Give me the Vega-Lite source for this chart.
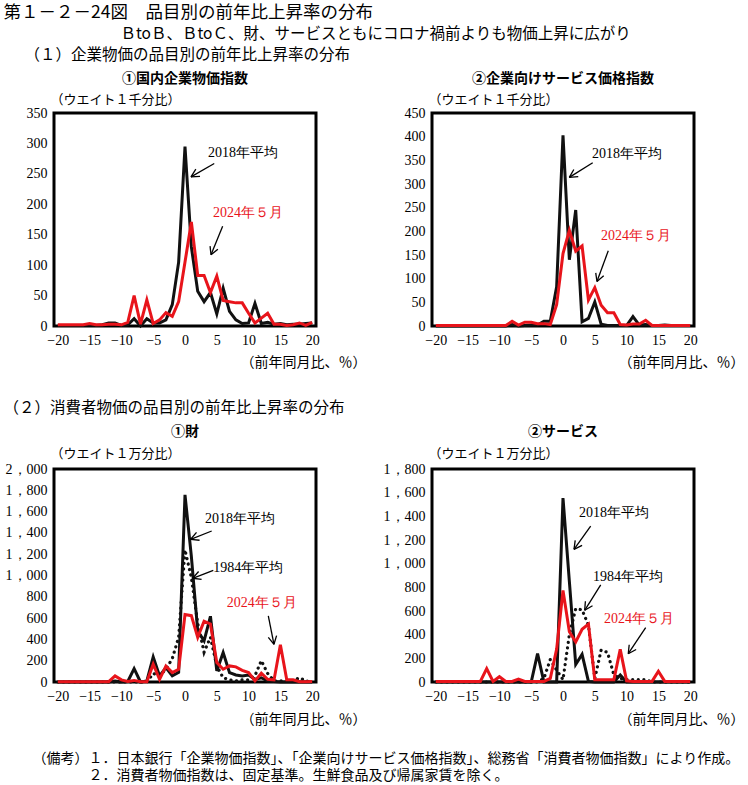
{
"$schema": "https://vega.github.io/schema/vega-lite/v6.json",
"background": "white",
"padding": {"left": 3, "top": 4, "right": 2, "bottom": 0},
"config": {
  "view": {"stroke": "black", "strokeWidth": 3},
  "font": "Noto Sans CJK JP",
  "axis": {"grid": false, "domain": false, "ticks": false, "labelFont": "Liberation Serif", "labelFontSize": 14, "labelColor": "black", "labelPadding": 7, "labelFlush": false, "labelOverlap": false, "labelSeparation": -40, "labelBound": false, "titleFont": "Noto Sans CJK JP", "titleFontSize": 13, "titleFontWeight": "normal", "titleColor": "black"},
  "title": {"font": "Noto Sans CJK JP", "color": "black", "fontWeight": "normal"}
},
"datasets": {
"lines": [
{"p":1,"s":"2018","x":-20,"y":1},{"p":1,"s":"2018","x":-19,"y":1},{"p":1,"s":"2018","x":-18,"y":1},{"p":1,"s":"2018","x":-17,"y":1},{"p":1,"s":"2018","x":-16,"y":1},{"p":1,"s":"2018","x":-15,"y":2},{"p":1,"s":"2018","x":-14,"y":1},{"p":1,"s":"2018","x":-13,"y":2},{"p":1,"s":"2018","x":-12,"y":5},{"p":1,"s":"2018","x":-11,"y":5},{"p":1,"s":"2018","x":-10,"y":1},{"p":1,"s":"2018","x":-9,"y":2},{"p":1,"s":"2018","x":-8,"y":12},{"p":1,"s":"2018","x":-7,"y":0},{"p":1,"s":"2018","x":-6,"y":12},{"p":1,"s":"2018","x":-5,"y":5},{"p":1,"s":"2018","x":-4,"y":5},{"p":1,"s":"2018","x":-3,"y":10},{"p":1,"s":"2018","x":-2,"y":35},{"p":1,"s":"2018","x":-1,"y":105},{"p":1,"s":"2018","x":0,"y":295},{"p":1,"s":"2018","x":1,"y":130},{"p":1,"s":"2018","x":2,"y":57},{"p":1,"s":"2018","x":3,"y":40},{"p":1,"s":"2018","x":4,"y":55},{"p":1,"s":"2018","x":5,"y":20},{"p":1,"s":"2018","x":6,"y":62},{"p":1,"s":"2018","x":7,"y":24},{"p":1,"s":"2018","x":8,"y":10},{"p":1,"s":"2018","x":9,"y":4},{"p":1,"s":"2018","x":10,"y":5},{"p":1,"s":"2018","x":11,"y":37},{"p":1,"s":"2018","x":12,"y":4},{"p":1,"s":"2018","x":13,"y":6},{"p":1,"s":"2018","x":14,"y":3},{"p":1,"s":"2018","x":15,"y":4},{"p":1,"s":"2018","x":16,"y":2},{"p":1,"s":"2018","x":17,"y":3},{"p":1,"s":"2018","x":18,"y":3},{"p":1,"s":"2018","x":19,"y":4},{"p":1,"s":"2018","x":20,"y":5},
{"p":1,"s":"2024","x":-20,"y":2},{"p":1,"s":"2024","x":-19,"y":2},{"p":1,"s":"2024","x":-18,"y":2},{"p":1,"s":"2024","x":-17,"y":2},{"p":1,"s":"2024","x":-16,"y":2},{"p":1,"s":"2024","x":-15,"y":4},{"p":1,"s":"2024","x":-14,"y":2},{"p":1,"s":"2024","x":-13,"y":2},{"p":1,"s":"2024","x":-12,"y":3},{"p":1,"s":"2024","x":-11,"y":3},{"p":1,"s":"2024","x":-10,"y":2},{"p":1,"s":"2024","x":-9,"y":6},{"p":1,"s":"2024","x":-8,"y":50},{"p":1,"s":"2024","x":-7,"y":3},{"p":1,"s":"2024","x":-6,"y":43},{"p":1,"s":"2024","x":-5,"y":4},{"p":1,"s":"2024","x":-4,"y":10},{"p":1,"s":"2024","x":-3,"y":22},{"p":1,"s":"2024","x":-2,"y":16},{"p":1,"s":"2024","x":-1,"y":40},{"p":1,"s":"2024","x":0,"y":105},{"p":1,"s":"2024","x":1,"y":171},{"p":1,"s":"2024","x":2,"y":83},{"p":1,"s":"2024","x":3,"y":83},{"p":1,"s":"2024","x":4,"y":55},{"p":1,"s":"2024","x":5,"y":82},{"p":1,"s":"2024","x":6,"y":42},{"p":1,"s":"2024","x":7,"y":40},{"p":1,"s":"2024","x":8,"y":38},{"p":1,"s":"2024","x":9,"y":38},{"p":1,"s":"2024","x":10,"y":21},{"p":1,"s":"2024","x":11,"y":5},{"p":1,"s":"2024","x":12,"y":13},{"p":1,"s":"2024","x":13,"y":21},{"p":1,"s":"2024","x":14,"y":3},{"p":1,"s":"2024","x":15,"y":3},{"p":1,"s":"2024","x":16,"y":1},{"p":1,"s":"2024","x":17,"y":2},{"p":1,"s":"2024","x":18,"y":5},{"p":1,"s":"2024","x":19,"y":1},{"p":1,"s":"2024","x":20,"y":6},
{"p":2,"s":"2018","x":-20,"y":0},{"p":2,"s":"2018","x":-19,"y":0},{"p":2,"s":"2018","x":-18,"y":0},{"p":2,"s":"2018","x":-17,"y":0},{"p":2,"s":"2018","x":-16,"y":0},{"p":2,"s":"2018","x":-15,"y":0},{"p":2,"s":"2018","x":-14,"y":0},{"p":2,"s":"2018","x":-13,"y":0},{"p":2,"s":"2018","x":-12,"y":0},{"p":2,"s":"2018","x":-11,"y":0},{"p":2,"s":"2018","x":-10,"y":0},{"p":2,"s":"2018","x":-9,"y":0},{"p":2,"s":"2018","x":-8,"y":3},{"p":2,"s":"2018","x":-7,"y":0},{"p":2,"s":"2018","x":-6,"y":1},{"p":2,"s":"2018","x":-5,"y":2},{"p":2,"s":"2018","x":-4,"y":2},{"p":2,"s":"2018","x":-3,"y":10},{"p":2,"s":"2018","x":-2,"y":10},{"p":2,"s":"2018","x":-1,"y":83},{"p":2,"s":"2018","x":0,"y":403},{"p":2,"s":"2018","x":1,"y":140},{"p":2,"s":"2018","x":2,"y":245},{"p":2,"s":"2018","x":3,"y":9},{"p":2,"s":"2018","x":4,"y":16},{"p":2,"s":"2018","x":5,"y":51},{"p":2,"s":"2018","x":6,"y":4},{"p":2,"s":"2018","x":7,"y":1},{"p":2,"s":"2018","x":8,"y":1},{"p":2,"s":"2018","x":9,"y":1},{"p":2,"s":"2018","x":10,"y":1},{"p":2,"s":"2018","x":11,"y":20},{"p":2,"s":"2018","x":12,"y":2},{"p":2,"s":"2018","x":13,"y":3},{"p":2,"s":"2018","x":14,"y":1},{"p":2,"s":"2018","x":15,"y":1},{"p":2,"s":"2018","x":16,"y":2},{"p":2,"s":"2018","x":17,"y":1},{"p":2,"s":"2018","x":18,"y":1},{"p":2,"s":"2018","x":19,"y":1},{"p":2,"s":"2018","x":20,"y":1},
{"p":2,"s":"2024","x":-20,"y":1},{"p":2,"s":"2024","x":-19,"y":1},{"p":2,"s":"2024","x":-18,"y":1},{"p":2,"s":"2024","x":-17,"y":1},{"p":2,"s":"2024","x":-16,"y":1},{"p":2,"s":"2024","x":-15,"y":1},{"p":2,"s":"2024","x":-14,"y":1},{"p":2,"s":"2024","x":-13,"y":1},{"p":2,"s":"2024","x":-12,"y":1},{"p":2,"s":"2024","x":-11,"y":1},{"p":2,"s":"2024","x":-10,"y":1},{"p":2,"s":"2024","x":-9,"y":1},{"p":2,"s":"2024","x":-8,"y":10},{"p":2,"s":"2024","x":-7,"y":2},{"p":2,"s":"2024","x":-6,"y":8},{"p":2,"s":"2024","x":-5,"y":8},{"p":2,"s":"2024","x":-4,"y":5},{"p":2,"s":"2024","x":-3,"y":5},{"p":2,"s":"2024","x":-2,"y":3},{"p":2,"s":"2024","x":-1,"y":45},{"p":2,"s":"2024","x":0,"y":153},{"p":2,"s":"2024","x":1,"y":202},{"p":2,"s":"2024","x":2,"y":158},{"p":2,"s":"2024","x":3,"y":169},{"p":2,"s":"2024","x":4,"y":55},{"p":2,"s":"2024","x":5,"y":81},{"p":2,"s":"2024","x":6,"y":44},{"p":2,"s":"2024","x":7,"y":28},{"p":2,"s":"2024","x":8,"y":28},{"p":2,"s":"2024","x":9,"y":3},{"p":2,"s":"2024","x":10,"y":2},{"p":2,"s":"2024","x":11,"y":4},{"p":2,"s":"2024","x":12,"y":4},{"p":2,"s":"2024","x":13,"y":12},{"p":2,"s":"2024","x":14,"y":1},{"p":2,"s":"2024","x":15,"y":1},{"p":2,"s":"2024","x":16,"y":1},{"p":2,"s":"2024","x":17,"y":1},{"p":2,"s":"2024","x":18,"y":1},{"p":2,"s":"2024","x":19,"y":1},{"p":2,"s":"2024","x":20,"y":1},
{"p":3,"s":"2018","x":-20,"y":0},{"p":3,"s":"2018","x":-19,"y":0},{"p":3,"s":"2018","x":-18,"y":0},{"p":3,"s":"2018","x":-17,"y":0},{"p":3,"s":"2018","x":-16,"y":0},{"p":3,"s":"2018","x":-15,"y":0},{"p":3,"s":"2018","x":-14,"y":0},{"p":3,"s":"2018","x":-13,"y":0},{"p":3,"s":"2018","x":-12,"y":0},{"p":3,"s":"2018","x":-11,"y":10},{"p":3,"s":"2018","x":-10,"y":0},{"p":3,"s":"2018","x":-9,"y":5},{"p":3,"s":"2018","x":-8,"y":125},{"p":3,"s":"2018","x":-7,"y":0},{"p":3,"s":"2018","x":-6,"y":10},{"p":3,"s":"2018","x":-5,"y":235},{"p":3,"s":"2018","x":-4,"y":57},{"p":3,"s":"2018","x":-3,"y":135},{"p":3,"s":"2018","x":-2,"y":57},{"p":3,"s":"2018","x":-1,"y":90},{"p":3,"s":"2018","x":0,"y":1757},{"p":3,"s":"2018","x":1,"y":1180},{"p":3,"s":"2018","x":2,"y":480},{"p":3,"s":"2018","x":3,"y":387},{"p":3,"s":"2018","x":4,"y":617},{"p":3,"s":"2018","x":5,"y":104},{"p":3,"s":"2018","x":6,"y":277},{"p":3,"s":"2018","x":7,"y":88},{"p":3,"s":"2018","x":8,"y":66},{"p":3,"s":"2018","x":9,"y":57},{"p":3,"s":"2018","x":10,"y":66},{"p":3,"s":"2018","x":11,"y":25},{"p":3,"s":"2018","x":12,"y":40},{"p":3,"s":"2018","x":13,"y":10},{"p":3,"s":"2018","x":14,"y":5},{"p":3,"s":"2018","x":15,"y":0},{"p":3,"s":"2018","x":16,"y":0},{"p":3,"s":"2018","x":17,"y":0},{"p":3,"s":"2018","x":18,"y":0},{"p":3,"s":"2018","x":19,"y":0},{"p":3,"s":"2018","x":20,"y":0},
{"p":3,"s":"1984","x":-20,"y":0},{"p":3,"s":"1984","x":-19,"y":0},{"p":3,"s":"1984","x":-18,"y":0},{"p":3,"s":"1984","x":-17,"y":0},{"p":3,"s":"1984","x":-16,"y":0},{"p":3,"s":"1984","x":-15,"y":0},{"p":3,"s":"1984","x":-14,"y":0},{"p":3,"s":"1984","x":-13,"y":0},{"p":3,"s":"1984","x":-12,"y":0},{"p":3,"s":"1984","x":-11,"y":0},{"p":3,"s":"1984","x":-10,"y":0},{"p":3,"s":"1984","x":-9,"y":0},{"p":3,"s":"1984","x":-8,"y":0},{"p":3,"s":"1984","x":-7,"y":0},{"p":3,"s":"1984","x":-6,"y":0},{"p":3,"s":"1984","x":-5,"y":80},{"p":3,"s":"1984","x":-4,"y":60},{"p":3,"s":"1984","x":-3,"y":120},{"p":3,"s":"1984","x":-2,"y":220},{"p":3,"s":"1984","x":-1,"y":420},{"p":3,"s":"1984","x":0,"y":1240},{"p":3,"s":"1984","x":1,"y":980},{"p":3,"s":"1984","x":2,"y":550},{"p":3,"s":"1984","x":3,"y":280},{"p":3,"s":"1984","x":4,"y":420},{"p":3,"s":"1984","x":5,"y":150},{"p":3,"s":"1984","x":6,"y":40},{"p":3,"s":"1984","x":7,"y":20},{"p":3,"s":"1984","x":8,"y":10},{"p":3,"s":"1984","x":9,"y":20},{"p":3,"s":"1984","x":10,"y":20},{"p":3,"s":"1984","x":11,"y":60},{"p":3,"s":"1984","x":12,"y":200},{"p":3,"s":"1984","x":13,"y":80},{"p":3,"s":"1984","x":14,"y":10},{"p":3,"s":"1984","x":15,"y":10},{"p":3,"s":"1984","x":16,"y":10},{"p":3,"s":"1984","x":17,"y":10},{"p":3,"s":"1984","x":18,"y":40},{"p":3,"s":"1984","x":19,"y":10},{"p":3,"s":"1984","x":20,"y":0},
{"p":3,"s":"2024","x":-20,"y":3},{"p":3,"s":"2024","x":-19,"y":3},{"p":3,"s":"2024","x":-18,"y":3},{"p":3,"s":"2024","x":-17,"y":3},{"p":3,"s":"2024","x":-16,"y":3},{"p":3,"s":"2024","x":-15,"y":3},{"p":3,"s":"2024","x":-14,"y":3},{"p":3,"s":"2024","x":-13,"y":3},{"p":3,"s":"2024","x":-12,"y":3},{"p":3,"s":"2024","x":-11,"y":57},{"p":3,"s":"2024","x":-10,"y":20},{"p":3,"s":"2024","x":-9,"y":5},{"p":3,"s":"2024","x":-8,"y":15},{"p":3,"s":"2024","x":-7,"y":3},{"p":3,"s":"2024","x":-6,"y":3},{"p":3,"s":"2024","x":-5,"y":167},{"p":3,"s":"2024","x":-4,"y":25},{"p":3,"s":"2024","x":-3,"y":150},{"p":3,"s":"2024","x":-2,"y":88},{"p":3,"s":"2024","x":-1,"y":120},{"p":3,"s":"2024","x":0,"y":633},{"p":3,"s":"2024","x":1,"y":623},{"p":3,"s":"2024","x":2,"y":419},{"p":3,"s":"2024","x":3,"y":570},{"p":3,"s":"2024","x":4,"y":545},{"p":3,"s":"2024","x":5,"y":183},{"p":3,"s":"2024","x":6,"y":120},{"p":3,"s":"2024","x":7,"y":151},{"p":3,"s":"2024","x":8,"y":142},{"p":3,"s":"2024","x":9,"y":110},{"p":3,"s":"2024","x":10,"y":88},{"p":3,"s":"2024","x":11,"y":10},{"p":3,"s":"2024","x":12,"y":82},{"p":3,"s":"2024","x":13,"y":25},{"p":3,"s":"2024","x":14,"y":19},{"p":3,"s":"2024","x":15,"y":350},{"p":3,"s":"2024","x":16,"y":20},{"p":3,"s":"2024","x":17,"y":20},{"p":3,"s":"2024","x":18,"y":3},{"p":3,"s":"2024","x":19,"y":3},{"p":3,"s":"2024","x":20,"y":5},
{"p":4,"s":"2018","x":-20,"y":0},{"p":4,"s":"2018","x":-19,"y":0},{"p":4,"s":"2018","x":-18,"y":0},{"p":4,"s":"2018","x":-17,"y":0},{"p":4,"s":"2018","x":-16,"y":0},{"p":4,"s":"2018","x":-15,"y":0},{"p":4,"s":"2018","x":-14,"y":0},{"p":4,"s":"2018","x":-13,"y":0},{"p":4,"s":"2018","x":-12,"y":0},{"p":4,"s":"2018","x":-11,"y":0},{"p":4,"s":"2018","x":-10,"y":0},{"p":4,"s":"2018","x":-9,"y":0},{"p":4,"s":"2018","x":-8,"y":0},{"p":4,"s":"2018","x":-7,"y":0},{"p":4,"s":"2018","x":-6,"y":0},{"p":4,"s":"2018","x":-5,"y":0},{"p":4,"s":"2018","x":-4,"y":240},{"p":4,"s":"2018","x":-3,"y":0},{"p":4,"s":"2018","x":-2,"y":0},{"p":4,"s":"2018","x":-1,"y":0},{"p":4,"s":"2018","x":0,"y":1555},{"p":4,"s":"2018","x":1,"y":850},{"p":4,"s":"2018","x":2,"y":148},{"p":4,"s":"2018","x":3,"y":233},{"p":4,"s":"2018","x":4,"y":5},{"p":4,"s":"2018","x":5,"y":0},{"p":4,"s":"2018","x":6,"y":0},{"p":4,"s":"2018","x":7,"y":0},{"p":4,"s":"2018","x":8,"y":0},{"p":4,"s":"2018","x":9,"y":60},{"p":4,"s":"2018","x":10,"y":0},{"p":4,"s":"2018","x":11,"y":0},{"p":4,"s":"2018","x":12,"y":0},{"p":4,"s":"2018","x":13,"y":0},{"p":4,"s":"2018","x":14,"y":0},{"p":4,"s":"2018","x":15,"y":0},{"p":4,"s":"2018","x":16,"y":0},{"p":4,"s":"2018","x":17,"y":0},{"p":4,"s":"2018","x":18,"y":0},{"p":4,"s":"2018","x":19,"y":0},{"p":4,"s":"2018","x":20,"y":0},
{"p":4,"s":"1984","x":-20,"y":0},{"p":4,"s":"1984","x":-19,"y":0},{"p":4,"s":"1984","x":-18,"y":0},{"p":4,"s":"1984","x":-17,"y":0},{"p":4,"s":"1984","x":-16,"y":0},{"p":4,"s":"1984","x":-15,"y":0},{"p":4,"s":"1984","x":-14,"y":0},{"p":4,"s":"1984","x":-13,"y":0},{"p":4,"s":"1984","x":-12,"y":0},{"p":4,"s":"1984","x":-11,"y":0},{"p":4,"s":"1984","x":-10,"y":0},{"p":4,"s":"1984","x":-9,"y":0},{"p":4,"s":"1984","x":-8,"y":0},{"p":4,"s":"1984","x":-7,"y":0},{"p":4,"s":"1984","x":-6,"y":0},{"p":4,"s":"1984","x":-5,"y":0},{"p":4,"s":"1984","x":-4,"y":0},{"p":4,"s":"1984","x":-3,"y":30},{"p":4,"s":"1984","x":-2,"y":190},{"p":4,"s":"1984","x":-1,"y":100},{"p":4,"s":"1984","x":0,"y":20},{"p":4,"s":"1984","x":1,"y":400},{"p":4,"s":"1984","x":2,"y":620},{"p":4,"s":"1984","x":3,"y":610},{"p":4,"s":"1984","x":4,"y":480},{"p":4,"s":"1984","x":5,"y":30},{"p":4,"s":"1984","x":6,"y":270},{"p":4,"s":"1984","x":7,"y":250},{"p":4,"s":"1984","x":8,"y":60},{"p":4,"s":"1984","x":9,"y":30},{"p":4,"s":"1984","x":10,"y":20},{"p":4,"s":"1984","x":11,"y":20},{"p":4,"s":"1984","x":12,"y":20},{"p":4,"s":"1984","x":13,"y":20},{"p":4,"s":"1984","x":14,"y":0},{"p":4,"s":"1984","x":15,"y":0},{"p":4,"s":"1984","x":16,"y":0},{"p":4,"s":"1984","x":17,"y":0},{"p":4,"s":"1984","x":18,"y":0},{"p":4,"s":"1984","x":19,"y":0},{"p":4,"s":"1984","x":20,"y":0},
{"p":4,"s":"2024","x":-20,"y":5},{"p":4,"s":"2024","x":-19,"y":5},{"p":4,"s":"2024","x":-18,"y":5},{"p":4,"s":"2024","x":-17,"y":5},{"p":4,"s":"2024","x":-16,"y":5},{"p":4,"s":"2024","x":-15,"y":5},{"p":4,"s":"2024","x":-14,"y":5},{"p":4,"s":"2024","x":-13,"y":5},{"p":4,"s":"2024","x":-12,"y":113},{"p":4,"s":"2024","x":-11,"y":5},{"p":4,"s":"2024","x":-10,"y":45},{"p":4,"s":"2024","x":-9,"y":5},{"p":4,"s":"2024","x":-8,"y":5},{"p":4,"s":"2024","x":-7,"y":25},{"p":4,"s":"2024","x":-6,"y":5},{"p":4,"s":"2024","x":-5,"y":5},{"p":4,"s":"2024","x":-4,"y":5},{"p":4,"s":"2024","x":-3,"y":5},{"p":4,"s":"2024","x":-2,"y":30},{"p":4,"s":"2024","x":-1,"y":278},{"p":4,"s":"2024","x":0,"y":773},{"p":4,"s":"2024","x":1,"y":424},{"p":4,"s":"2024","x":2,"y":338},{"p":4,"s":"2024","x":3,"y":446},{"p":4,"s":"2024","x":4,"y":489},{"p":4,"s":"2024","x":5,"y":20},{"p":4,"s":"2024","x":6,"y":20},{"p":4,"s":"2024","x":7,"y":20},{"p":4,"s":"2024","x":8,"y":20},{"p":4,"s":"2024","x":9,"y":276},{"p":4,"s":"2024","x":10,"y":10},{"p":4,"s":"2024","x":11,"y":5},{"p":4,"s":"2024","x":12,"y":5},{"p":4,"s":"2024","x":13,"y":5},{"p":4,"s":"2024","x":14,"y":5},{"p":4,"s":"2024","x":15,"y":91},{"p":4,"s":"2024","x":16,"y":5},{"p":4,"s":"2024","x":17,"y":5},{"p":4,"s":"2024","x":18,"y":5},{"p":4,"s":"2024","x":19,"y":5},{"p":4,"s":"2024","x":20,"y":5}
],
"labels": [
{"p":1,"s":"2018","t":"2018年平均","x":3.6,"y":285},{"p":1,"s":"2024","t":"2024年５月","x":4.4,"y":186},
{"p":2,"s":"2018","t":"2018年平均","x":4.56,"y":363},{"p":2,"s":"2024","t":"2024年５月","x":5.97,"y":190},
{"p":3,"s":"2018","t":"2018年平均","x":3.14,"y":1528},{"p":3,"s":"1984","t":"1984年平均","x":4.45,"y":1073},{"p":3,"s":"2024","t":"2024年５月","x":6.55,"y":745},
{"p":4,"s":"2018","t":"2018年平均","x":2.51,"y":1431},{"p":4,"s":"1984","t":"1984年平均","x":4.71,"y":887},{"p":4,"s":"2024","t":"2024年５月","x":6.44,"y":535}
],
"arrows": [
{"p":1,"x":0.94,"y":245,"x2":4.6,"y2":267},{"p":1,"x":0.94,"y":245,"x2":2.36,"y2":245.8},{"p":1,"x":0.94,"y":245,"x2":1.7,"y2":257.8},
{"p":1,"x":4.09,"y":117,"x2":5.92,"y2":164},{"p":1,"x":4.09,"y":117,"x2":5.17,"y2":126.2},{"p":1,"x":4.09,"y":117,"x2":3.94,"y2":131.3},
{"p":2,"x":0.99,"y":314,"x2":4.67,"y2":345},{"p":2,"x":0.99,"y":314,"x2":2.4,"y2":315.5},{"p":2,"x":0.99,"y":314,"x2":1.7,"y2":330.7},
{"p":2,"x":5.34,"y":94,"x2":7.12,"y2":159},{"p":2,"x":5.34,"y":94,"x2":6.4,"y2":106.3},{"p":2,"x":5.34,"y":94,"x2":5.15,"y2":112.4},
{"p":3,"x":0.89,"y":1340,"x2":4.2,"y2":1418},{"p":3,"x":0.89,"y":1340,"x2":2.29,"y2":1331},{"p":3,"x":0.89,"y":1340,"x2":1.81,"y2":1405},
{"p":3,"x":1.21,"y":974,"x2":4.45,"y2":1049},{"p":3,"x":1.21,"y":974,"x2":2.61,"y2":963},{"p":3,"x":1.21,"y":974,"x2":2.14,"y2":1038},
{"p":3,"x":13.99,"y":354,"x2":13.1,"y2":620},{"p":3,"x":13.99,"y":354,"x2":14.4,"y2":435},{"p":3,"x":13.99,"y":354,"x2":13.1,"y2":419},
{"p":4,"x":1.73,"y":1121,"x2":4.35,"y2":1318},{"p":4,"x":1.73,"y":1121,"x2":3.0,"y2":1155},{"p":4,"x":1.73,"y":1121,"x2":1.92,"y2":1197},
{"p":4,"x":3.41,"y":606,"x2":5.93,"y2":820},{"p":4,"x":3.41,"y":606,"x2":4.64,"y2":644},{"p":4,"x":3.41,"y":606,"x2":3.52,"y2":682},
{"p":4,"x":10.26,"y":239,"x2":13.0,"y2":459},{"p":4,"x":10.26,"y":239,"x2":11.5,"y2":275},{"p":4,"x":10.26,"y":239,"x2":10.41,"y2":315}
]
},
"title": {"text": "第１－２－24図　品目別の前年比上昇率の分布", "anchor": "start", "fontSize": 17.5, "offset": 5},
"vconcat": [{
  "title": {"text": "ＢtoＢ、ＢtoＣ、財、サービスともにコロナ禍前よりも物価上昇に広がり", "anchor": "start", "dx": 117, "fontSize": 15.5, "offset": 6},
  "vconcat": [{
    "title": {"text": ["（備考）１．日本銀行「企業物価指数」、「企業向けサービス価格指数」、総務省「消費者物価指数」により作成。", "\u200b　　　　２．消費者物価指数は、固定基準。生鮮食品及び帰属家賃を除く。"], "orient": "bottom", "anchor": "start", "align": "left", "dx": 29, "fontSize": 14, "lineHeight": 17, "offset": 24},
    "spacing": 30,
    "vconcat": [
    {
      "title": {"text": "（１）企業物価の品目別の前年比上昇率の分布", "anchor": "start", "fontSize": 15.5, "offset": 7},
      "hconcat": [
      {
        "width": 262, "height": 213,
        "title": {"text": "①国内企業物価指数", "fontSize": 14, "fontWeight": "bold", "offset": 7},
        "layer": [
          {"data": {"name": "lines"}, "transform": [{"filter": "datum.p == 1 && datum.s == '2018'"}],
           "mark": {"type": "line", "color": "#111111", "strokeWidth": 3},
           "encoding": {
             "x": {"field": "x", "type": "quantitative", "scale": {"domain": [-20.6, 20.6], "nice": false, "zero": false}, "axis": {"tickCount": 8, "labelOverlap": false, "title": "（前年同月比、％）", "titleFontSize": 14, "titleAlign": "right", "titleX": 312, "titleY": 36, "titleBaseline": "middle"}},
             "y": {"field": "y", "type": "quantitative", "scale": {"domain": [0, 350], "nice": false}, "axis": {"tickCount": 7, "labelOverlap": false, "title": "（ウエイト１千分比）", "titleAngle": 0, "titleAlign": "left", "titleX": -4, "titleY": -14, "titleBaseline": "middle"}}
           }},
          {"data": {"name": "lines"}, "transform": [{"filter": "datum.p == 1 && datum.s == '2024'"}],
           "mark": {"type": "line", "color": "#e8141b", "strokeWidth": 3},
           "encoding": {"x": {"field": "x", "type": "quantitative"}, "y": {"field": "y", "type": "quantitative"}}},
          {"data": {"name": "arrows"}, "transform": [{"filter": "datum.p == 1"}],
           "mark": {"type": "rule", "color": "black", "strokeWidth": 1.3},
           "encoding": {"x": {"field": "x", "type": "quantitative"}, "y": {"field": "y", "type": "quantitative"}, "x2": {"field": "x2"}, "y2": {"field": "y2"}}},
          {"data": {"name": "labels"}, "transform": [{"filter": "datum.p == 1"}],
           "mark": {"type": "text", "align": "left", "baseline": "middle", "font": "Liberation Serif", "fontSize": 14},
           "encoding": {"x": {"field": "x", "type": "quantitative"}, "y": {"field": "y", "type": "quantitative"}, "text": {"field": "t"}, "color": {"field": "s", "type": "nominal", "scale": {"domain": ["2018", "1984", "2024"], "range": ["black", "black", "#e8141b"]}, "legend": null}}}
        ]
      },
      {
        "width": 262, "height": 213,
        "title": {"text": "②企業向けサービス価格指数", "fontSize": 14, "fontWeight": "bold", "offset": 7},
        "layer": [
          {"data": {"name": "lines"}, "transform": [{"filter": "datum.p == 2 && datum.s == '2018'"}],
           "mark": {"type": "line", "color": "#111111", "strokeWidth": 3},
           "encoding": {
             "x": {"field": "x", "type": "quantitative", "scale": {"domain": [-20.6, 20.6], "nice": false, "zero": false}, "axis": {"tickCount": 8, "labelOverlap": false, "title": "（前年同月比、％）", "titleFontSize": 14, "titleAlign": "right", "titleX": 312, "titleY": 36, "titleBaseline": "middle"}},
             "y": {"field": "y", "type": "quantitative", "scale": {"domain": [0, 450], "nice": false}, "axis": {"tickCount": 9, "labelOverlap": false, "title": "（ウエイト１千分比）", "titleAngle": 0, "titleAlign": "left", "titleX": -4, "titleY": -14, "titleBaseline": "middle"}}
           }},
          {"data": {"name": "lines"}, "transform": [{"filter": "datum.p == 2 && datum.s == '2024'"}],
           "mark": {"type": "line", "color": "#e8141b", "strokeWidth": 3},
           "encoding": {"x": {"field": "x", "type": "quantitative"}, "y": {"field": "y", "type": "quantitative"}}},
          {"data": {"name": "arrows"}, "transform": [{"filter": "datum.p == 2"}],
           "mark": {"type": "rule", "color": "black", "strokeWidth": 1.3},
           "encoding": {"x": {"field": "x", "type": "quantitative"}, "y": {"field": "y", "type": "quantitative"}, "x2": {"field": "x2"}, "y2": {"field": "y2"}}},
          {"data": {"name": "labels"}, "transform": [{"filter": "datum.p == 2"}],
           "mark": {"type": "text", "align": "left", "baseline": "middle", "font": "Liberation Serif", "fontSize": 14},
           "encoding": {"x": {"field": "x", "type": "quantitative"}, "y": {"field": "y", "type": "quantitative"}, "text": {"field": "t"}, "color": {"field": "s", "type": "nominal", "scale": {"domain": ["2018", "1984", "2024"], "range": ["black", "black", "#e8141b"]}, "legend": null}}}
        ]
      }
      ],
      "spacing": 116,
      "bounds": "flush"
    },
    {
      "title": {"text": "（２）消費者物価の品目別の前年比上昇率の分布", "anchor": "start", "fontSize": 15.5, "offset": 7},
      "hconcat": [
      {
        "width": 262, "height": 213,
        "title": {"text": "①財", "fontSize": 14, "fontWeight": "bold", "offset": 8},
        "layer": [
          {"data": {"name": "lines"}, "transform": [{"filter": "datum.p == 3 && datum.s == '2018'"}],
           "mark": {"type": "line", "color": "#111111", "strokeWidth": 3},
           "encoding": {
             "x": {"field": "x", "type": "quantitative", "scale": {"domain": [-20.6, 20.6], "nice": false, "zero": false}, "axis": {"tickCount": 8, "labelOverlap": false, "title": "（前年同月比、％）", "titleFontSize": 14, "titleAlign": "right", "titleX": 312, "titleY": 37, "titleBaseline": "middle"}},
             "y": {"field": "y", "type": "quantitative", "scale": {"domain": [0, 2000], "nice": false}, "axis": {"tickCount": 10, "labelOverlap": false, "format": ",d", "labelExpr": "replace(datum.label, ',', '，')", "title": "（ウエイト１万分比）", "titleAngle": 0, "titleAlign": "left", "titleX": -4, "titleY": -16, "titleBaseline": "middle"}}
           }},
          {"data": {"name": "lines"}, "transform": [{"filter": "datum.p == 3 && datum.s == '1984'"}],
           "mark": {"type": "line", "color": "#111111", "strokeWidth": 3.2, "strokeDash": [0.1, 5.5], "strokeCap": "round"},
           "encoding": {"x": {"field": "x", "type": "quantitative"}, "y": {"field": "y", "type": "quantitative"}}},
          {"data": {"name": "lines"}, "transform": [{"filter": "datum.p == 3 && datum.s == '2024'"}],
           "mark": {"type": "line", "color": "#e8141b", "strokeWidth": 3},
           "encoding": {"x": {"field": "x", "type": "quantitative"}, "y": {"field": "y", "type": "quantitative"}}},
          {"data": {"name": "arrows"}, "transform": [{"filter": "datum.p == 3"}],
           "mark": {"type": "rule", "color": "black", "strokeWidth": 1.3},
           "encoding": {"x": {"field": "x", "type": "quantitative"}, "y": {"field": "y", "type": "quantitative"}, "x2": {"field": "x2"}, "y2": {"field": "y2"}}},
          {"data": {"name": "labels"}, "transform": [{"filter": "datum.p == 3"}],
           "mark": {"type": "text", "align": "left", "baseline": "middle", "font": "Liberation Serif", "fontSize": 14},
           "encoding": {"x": {"field": "x", "type": "quantitative"}, "y": {"field": "y", "type": "quantitative"}, "text": {"field": "t"}, "color": {"field": "s", "type": "nominal", "scale": {"domain": ["2018", "1984", "2024"], "range": ["black", "black", "#e8141b"]}, "legend": null}}}
        ]
      },
      {
        "width": 262, "height": 213,
        "title": {"text": "②サービス", "fontSize": 14, "fontWeight": "bold", "offset": 8},
        "layer": [
          {"data": {"name": "lines"}, "transform": [{"filter": "datum.p == 4 && datum.s == '2018'"}],
           "mark": {"type": "line", "color": "#111111", "strokeWidth": 3},
           "encoding": {
             "x": {"field": "x", "type": "quantitative", "scale": {"domain": [-20.6, 20.6], "nice": false, "zero": false}, "axis": {"tickCount": 8, "labelOverlap": false, "title": "（前年同月比、％）", "titleFontSize": 14, "titleAlign": "right", "titleX": 312, "titleY": 37, "titleBaseline": "middle"}},
             "y": {"field": "y", "type": "quantitative", "scale": {"domain": [0, 1800], "nice": false}, "axis": {"tickCount": 9, "labelOverlap": false, "format": ",d", "labelExpr": "replace(datum.label, ',', '，')", "title": "（ウエイト１万分比）", "titleAngle": 0, "titleAlign": "left", "titleX": -4, "titleY": -16, "titleBaseline": "middle"}}
           }},
          {"data": {"name": "lines"}, "transform": [{"filter": "datum.p == 4 && datum.s == '1984'"}],
           "mark": {"type": "line", "color": "#111111", "strokeWidth": 3.2, "strokeDash": [0.1, 5.5], "strokeCap": "round"},
           "encoding": {"x": {"field": "x", "type": "quantitative"}, "y": {"field": "y", "type": "quantitative"}}},
          {"data": {"name": "lines"}, "transform": [{"filter": "datum.p == 4 && datum.s == '2024'"}],
           "mark": {"type": "line", "color": "#e8141b", "strokeWidth": 3},
           "encoding": {"x": {"field": "x", "type": "quantitative"}, "y": {"field": "y", "type": "quantitative"}}},
          {"data": {"name": "arrows"}, "transform": [{"filter": "datum.p == 4"}],
           "mark": {"type": "rule", "color": "black", "strokeWidth": 1.3},
           "encoding": {"x": {"field": "x", "type": "quantitative"}, "y": {"field": "y", "type": "quantitative"}, "x2": {"field": "x2"}, "y2": {"field": "y2"}}},
          {"data": {"name": "labels"}, "transform": [{"filter": "datum.p == 4"}],
           "mark": {"type": "text", "align": "left", "baseline": "middle", "font": "Liberation Serif", "fontSize": 14},
           "encoding": {"x": {"field": "x", "type": "quantitative"}, "y": {"field": "y", "type": "quantitative"}, "text": {"field": "t"}, "color": {"field": "s", "type": "nominal", "scale": {"domain": ["2018", "1984", "2024"], "range": ["black", "black", "#e8141b"]}, "legend": null}}}
        ]
      }
      ],
      "spacing": 116,
      "bounds": "flush"
    }
    ]
  }]
}]
}
